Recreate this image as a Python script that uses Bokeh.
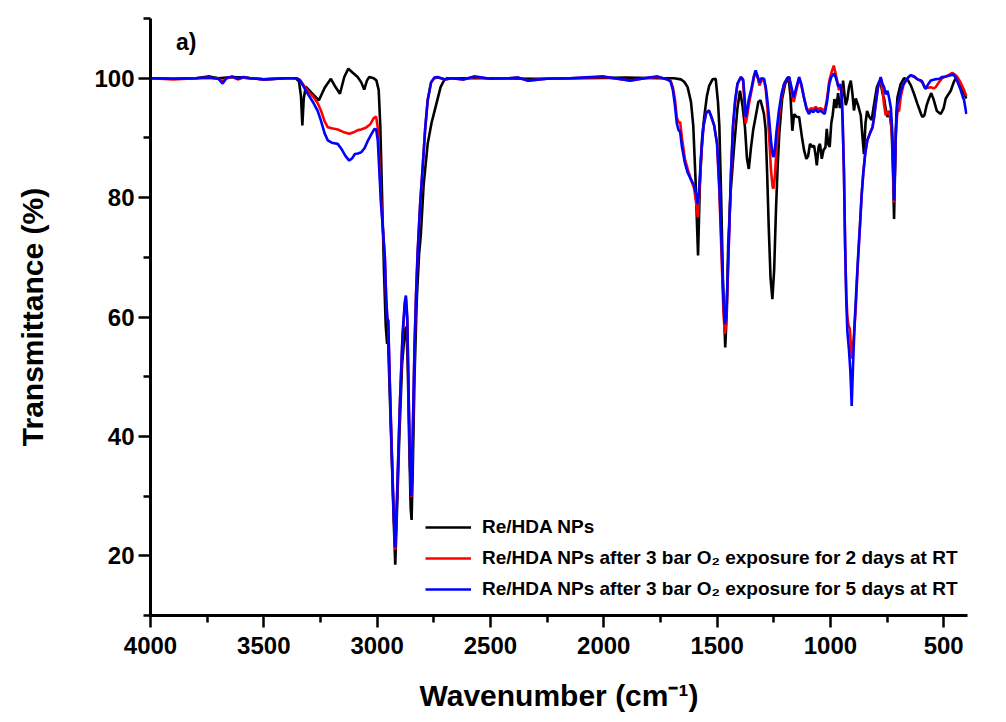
from bokeh.plotting import figure
from bokeh.models import Range1d, FixedTicker, Label
from bokeh.embed import file_html
from bokeh.resources import INLINE

# ---------------- data ----------------
black_wn = [4000, 3900, 3800, 3740, 3700, 3640, 3590, 3500, 3400, 3360, 3345, 3336, 3330, 3324, 3315,
            3290, 3257, 3230, 3204, 3185, 3164, 3145, 3127, 3110, 3086, 3070, 3057, 3045, 3035, 3015,
            3003, 2993, 2986, 2978, 2970, 2962, 2956, 2952, 2945, 2935, 2927, 2920, 2912, 2902, 2890,
            2877, 2871, 2865, 2858, 2852, 2848, 2843, 2835, 2825, 2815, 2807, 2795, 2777, 2760, 2740,
            2720, 2704, 2690, 2500, 2300, 2100, 1900, 1750, 1690, 1660, 1645, 1630, 1615, 1605, 1595,
            1584, 1576, 1566, 1557, 1545, 1535, 1520, 1506, 1496, 1490, 1482, 1474, 1464, 1457, 1451,
            1440, 1425, 1410, 1399, 1388, 1377, 1368, 1360, 1350, 1340, 1330, 1318, 1308, 1293, 1286,
            1279, 1272, 1264, 1256, 1248, 1240, 1233, 1225, 1213, 1200, 1185, 1176, 1168, 1160, 1148,
            1138, 1125, 1116, 1106, 1098, 1090, 1080, 1072, 1065, 1060, 1052, 1046, 1038, 1030, 1022,
            1016, 1010, 1003, 996, 990, 982, 974, 966, 958, 950, 944, 937, 932, 925, 918,
            910, 903, 896, 888, 878, 866, 858, 852, 845, 838, 828, 818, 807, 795, 784,
            778, 770, 763, 755, 748, 740, 730, 724, 719, 714, 709, 704, 690, 675, 660,
            645, 631, 616, 600, 594, 585, 575, 565, 555, 545, 530, 513, 500, 491, 469,
            455, 447, 435, 425, 410, 400]
black_t = [100.0, 99.9, 100.0, 100.3, 100.0, 100.2, 100.1, 99.8, 100.0, 100.0, 99.5, 97.0, 92.1, 96.5, 98.6,
           97.6, 96.3, 98.5, 99.9, 98.6, 97.4, 100.2, 101.6, 101.0, 100.2, 99.3, 98.1, 99.6, 100.2, 100.0,
           99.6, 98.0, 92.0, 80.0, 68.0, 58.5, 55.5, 56.5, 48.0, 36.0, 26.0, 18.5, 28.0, 40.0, 52.0,
           58.0, 58.3, 52.0, 38.0, 28.0, 26.0, 34.0, 50.0, 63.0, 70.5, 73.9, 82.0, 89.0, 92.5, 95.5,
           98.5, 99.7, 100.0, 100.0, 99.9, 100.0, 100.1, 100.0, 100.0, 99.8, 99.4, 98.5, 96.0, 92.0, 83.0,
           70.3, 82.0, 90.0, 93.4, 97.0, 98.7, 99.8, 99.9, 96.0, 92.0, 80.0, 66.0, 54.9, 61.0, 72.0,
           81.0, 88.5, 95.0, 97.9, 95.5, 91.8, 86.5, 84.8, 88.5, 91.5, 93.5, 96.0, 96.3, 94.0, 91.5,
           84.0, 75.0, 66.5, 63.0, 68.0, 78.0, 85.0, 91.0, 96.5, 99.0, 100.2, 97.0, 91.2, 94.0, 93.5,
           93.5, 90.0, 87.9, 86.5, 87.0, 89.0, 88.5, 88.7, 87.0, 85.4, 88.5, 89.0, 86.5, 88.0, 88.4,
           91.5, 89.0, 88.5, 92.5, 93.8, 96.5, 95.0, 97.5, 95.0, 96.5, 99.6, 97.0, 95.5, 96.5, 98.5,
           99.6, 97.5, 94.6, 96.6, 95.5, 93.8, 90.0, 87.3, 92.5, 94.5, 93.5, 93.0, 95.7, 98.5, 99.5,
           99.1, 97.5, 96.6, 94.5, 93.5, 94.5, 91.5, 85.0, 76.4, 86.0, 94.0, 96.8, 99.0, 100.0, 99.8,
           98.8, 97.4, 95.7, 94.0, 93.5, 93.8, 95.5, 96.6, 97.5, 96.5, 94.5, 94.0, 95.0, 96.6, 97.9,
           99.4, 99.9, 99.5, 98.6, 97.5, 96.6]

blue_wn = [4000, 3900, 3800, 3740, 3700, 3682, 3665, 3640, 3615, 3590, 3560, 3500, 3400, 3355, 3340,
           3320, 3300, 3280, 3262, 3248, 3232, 3218, 3200, 3174, 3155, 3140, 3123, 3110, 3098, 3085,
           3070, 3055, 3040, 3027, 3012, 3004, 2997, 2991, 2983, 2975, 2966, 2960, 2955, 2951, 2945,
           2936, 2928, 2920, 2912, 2900, 2888, 2878, 2873, 2867, 2861, 2855, 2849, 2843, 2835, 2828,
           2821, 2810, 2799, 2788, 2777, 2762, 2748, 2733, 2700, 2672, 2620, 2572, 2500, 2420, 2380,
           2336, 2250, 2150, 2000, 1940, 1880, 1820, 1763, 1719, 1705, 1695, 1686, 1678, 1670, 1663,
           1655, 1642, 1630, 1615, 1601, 1592, 1585, 1579, 1570, 1560, 1548, 1536, 1525, 1513, 1500,
           1490, 1480, 1472, 1466, 1460, 1454, 1447, 1439, 1430, 1420, 1410, 1395, 1385, 1378, 1374,
           1368, 1360, 1350, 1338, 1330, 1320, 1313, 1305, 1293, 1285, 1278, 1270, 1262, 1255, 1251,
           1245, 1238, 1227, 1215, 1204, 1190, 1182, 1172, 1162, 1150, 1138, 1128, 1118, 1105, 1095,
           1085, 1075, 1065, 1055, 1045, 1035, 1025, 1015, 1005, 996, 985, 975, 965, 958, 952,
           946, 940, 935, 930, 925, 918, 912, 906, 900, 893, 885, 878, 870, 862, 855,
           846, 837, 825, 814, 807, 800, 790, 778, 770, 763, 756, 748, 740, 733, 727,
           723, 719, 715, 711, 704, 697, 689, 678, 667, 655, 645, 630, 615, 600, 594,
           585, 579, 570, 557, 540, 520, 506, 490, 470, 457, 445, 435, 425, 415, 410,
           400]
blue_t = [100.0, 99.9, 100.0, 100.1, 99.9, 99.1, 100.0, 100.3, 99.9, 100.2, 100.0, 99.8, 100.0, 100.0, 99.6,
          98.3, 97.0, 95.8, 94.5, 92.9, 90.8, 89.6, 89.2, 89.0, 88.0, 87.0, 86.2, 86.6, 87.3, 87.4,
          87.6, 88.3, 89.6, 90.5, 91.5, 91.4, 89.5, 85.0, 79.0, 75.0, 70.0, 63.0, 59.7, 59.3, 50.0,
          38.0, 28.0, 21.4, 30.0, 45.0, 57.0, 62.5, 63.6, 60.0, 47.0, 35.0, 30.0, 40.0, 55.0, 64.0,
          71.0, 79.0, 85.1, 91.5, 96.3, 99.3, 100.1, 100.2, 99.8, 100.0, 99.8, 100.3, 99.9, 100.0, 100.1,
          99.6, 99.9, 100.0, 100.3, 99.9, 99.6, 100.0, 100.3, 99.8, 99.4, 98.0, 95.5, 92.5, 91.3, 91.0,
          88.5, 85.8, 84.2, 83.0, 82.0, 80.5, 78.9, 81.5, 87.5, 92.0, 94.2, 94.6, 93.5, 92.1, 89.0,
          82.0, 72.0, 63.0, 58.8, 60.0, 66.0, 74.0, 84.0, 92.0, 96.5, 99.1, 100.2, 99.8, 96.5, 93.5,
          94.5, 96.5, 98.0, 100.3, 101.3, 100.2, 99.3, 100.0, 99.9, 98.5, 96.3, 93.0, 89.5, 87.2, 86.8,
          88.0, 91.0, 94.6, 97.5, 99.1, 100.0, 100.2, 98.5, 96.8, 98.5, 100.2, 99.0, 97.0, 94.8, 94.0,
          94.6, 94.3, 94.8, 94.3, 94.6, 94.3, 94.0, 96.0, 99.0, 100.2, 100.8, 100.0, 98.6, 99.0, 98.0,
          93.0, 84.0, 72.0, 63.0, 57.5, 54.5, 51.0, 45.1, 52.0, 59.0, 65.0, 70.0, 75.0, 80.5, 84.0,
          87.5, 89.6, 90.8, 91.8, 93.5, 95.7, 98.5, 100.2, 99.0, 98.5, 97.3, 97.9, 96.5, 95.0, 91.0,
          85.0, 79.5, 85.0, 91.5, 95.7, 96.5, 97.9, 99.0, 99.6, 100.2, 100.5, 100.3, 99.8, 99.6, 99.4,
          98.5, 98.2, 98.9, 99.6, 99.8, 99.9, 100.2, 100.3, 100.5, 100.6, 100.0, 99.0, 98.0, 96.8, 96.3,
          94.0]

red_wn = [4000, 3900, 3800, 3740, 3700, 3682, 3665, 3640, 3615, 3590, 3560, 3500, 3400, 3355, 3340,
          3320, 3300, 3280, 3262, 3248, 3232, 3218, 3200, 3174, 3150, 3123, 3100, 3085, 3071, 3050,
          3030, 3015, 3005, 2998, 2991, 2983, 2975, 2966, 2960, 2955, 2951, 2945, 2936, 2928, 2920,
          2912, 2900, 2888, 2878, 2873, 2867, 2861, 2855, 2849, 2843, 2835, 2828, 2821, 2810, 2799,
          2788, 2777, 2762, 2748, 2733, 2700, 2672, 2620, 2572, 2500, 2420, 2380, 2336, 2250, 2150,
          2000, 1940, 1880, 1820, 1763, 1719, 1705, 1695, 1686, 1678, 1670, 1663, 1655, 1642, 1630,
          1615, 1601, 1592, 1585, 1579, 1570, 1560, 1548, 1536, 1525, 1513, 1500, 1490, 1480, 1472,
          1466, 1460, 1454, 1447, 1439, 1430, 1420, 1410, 1395, 1385, 1378, 1374, 1368, 1360, 1350,
          1338, 1330, 1320, 1313, 1305, 1293, 1285, 1278, 1270, 1262, 1255, 1251, 1245, 1238, 1227,
          1215, 1204, 1190, 1182, 1172, 1162, 1150, 1138, 1128, 1118, 1105, 1095, 1085, 1075, 1065,
          1055, 1045, 1035, 1025, 1015, 1005, 995, 985, 978, 970, 962, 955, 950, 946, 940,
          935, 930, 925, 920, 914, 910, 906, 901, 896, 888, 880, 870, 862, 855, 846,
          837, 825, 814, 807, 800, 790, 778, 770, 763, 756, 748, 740, 733, 727, 723,
          719, 715, 711, 704, 697, 689, 678, 667, 655, 645, 630, 615, 600, 594, 585,
          570, 557, 545, 535, 520, 506, 490, 475, 462, 450, 440, 430, 420, 410, 400]
red_t = [100.0, 99.8, 100.0, 100.1, 99.9, 99.5, 100.0, 100.2, 99.8, 100.1, 100.0, 99.8, 100.0, 100.0, 99.7,
         98.6, 97.6, 96.8, 95.8, 94.6, 92.8, 91.8, 91.6, 91.4, 91.0, 90.7, 91.0, 91.3, 91.4, 91.7,
         92.3, 93.3, 93.6, 92.0, 87.0, 80.0, 75.0, 70.0, 63.0, 59.7, 59.5, 50.5, 38.5, 28.5, 21.0,
         30.0, 45.0, 56.5, 62.0, 63.0, 59.5, 47.0, 35.5, 29.8, 40.0, 55.0, 64.0, 71.0, 79.0, 85.1,
         91.5, 96.3, 99.3, 100.0, 100.1, 99.8, 100.0, 99.8, 100.2, 99.9, 100.0, 100.1, 99.6, 99.9, 100.0,
         100.2, 99.9, 99.6, 100.0, 100.2, 99.8, 99.6, 98.5, 96.5, 93.5, 92.5, 92.7, 90.0, 86.5, 84.8,
         83.0, 81.5, 79.0, 76.7, 80.5, 87.0, 92.0, 94.2, 94.6, 93.5, 92.1, 89.0, 81.0, 70.0, 61.0,
         57.2, 59.0, 65.0, 73.5, 83.5, 91.5, 96.0, 99.0, 100.2, 99.5, 95.0, 92.4, 93.5, 95.5, 97.5,
         100.0, 101.0, 100.0, 98.8, 99.5, 99.8, 98.0, 95.0, 90.0, 84.5, 81.8, 81.5, 83.5, 88.0, 93.5,
         97.0, 99.0, 100.0, 100.2, 98.0, 96.0, 98.0, 100.0, 98.8, 97.0, 95.0, 94.5, 95.0, 94.8, 95.2,
         94.8, 95.0, 94.8, 94.5, 96.5, 99.5, 101.0, 102.1, 101.0, 99.5, 98.0, 99.0, 98.0, 93.0, 84.0,
         72.0, 64.0, 60.0, 58.6, 58.0, 55.5, 53.0, 55.0, 57.0, 61.5, 68.0, 75.0, 80.5, 84.0, 87.5,
         89.6, 90.8, 91.8, 93.5, 95.7, 98.5, 100.0, 98.0, 95.5, 93.8, 94.5, 94.0, 93.0, 90.0, 84.0,
         79.2, 85.0, 91.0, 94.5, 94.5, 97.0, 98.8, 99.6, 100.2, 100.5, 100.2, 99.8, 99.5, 99.2, 98.6,
         98.4, 98.5, 98.3, 98.5, 99.4, 100.0, 100.3, 100.6, 100.9, 100.6, 100.2, 99.6, 98.8, 98.0, 97.0]

series_labels = ["Re/HDA NPs",
                 "Re/HDA NPs after 3 bar O\u2082 exposure for 2 days at RT",
                 "Re/HDA NPs after 3 bar O\u2082 exposure for 5 days at RT"]
x_ticks = [4000, 3500, 3000, 2500, 2000, 1500, 1000, 500]
x_minor = [3750, 3250, 2750, 2250, 1750, 1250, 750]
y_ticks = [20, 40, 60, 80, 100]
y_minor = [10, 30, 50, 70, 90, 110]

FONT = "Liberation Sans"

p = figure(width=1006, height=722, output_backend="svg", toolbar_location=None,
           x_range=Range1d(4000, 395), y_range=Range1d(10, 110),
           min_border_left=150, min_border_right=39, min_border_top=18, min_border_bottom=107)
p.outline_line_color = None
p.grid.visible = False
p.background_fill_color = "white"
p.border_fill_color = "white"

p.line(black_wn, black_t, line_color="black", line_width=2.6, legend_label=series_labels[0])
p.line(red_wn, red_t, line_color="#ff0000", line_width=2.6, legend_label=series_labels[1])
p.line(blue_wn, blue_t, line_color="#0000ff", line_width=2.6, legend_label=series_labels[2])

for ax in (p.xaxis[0], p.yaxis[0]):
    ax.axis_line_width = 3
    ax.major_tick_line_width = 2.5
    ax.minor_tick_line_width = 2.5
    ax.major_tick_out = 12
    ax.major_tick_in = 0
    ax.minor_tick_out = 7
    ax.minor_tick_in = 0
    ax.major_label_text_font = FONT
    ax.major_label_text_font_style = "bold"
    ax.major_label_text_font_size = "24px"
    ax.major_label_text_color = "black"
    ax.axis_label_text_font = FONT
    ax.axis_label_text_font_style = "bold"
    ax.axis_label_text_font_size = "30px"
    ax.axis_label_text_color = "black"

p.xaxis.ticker = FixedTicker(ticks=x_ticks, minor_ticks=x_minor)
p.yaxis.ticker = FixedTicker(ticks=y_ticks, minor_ticks=y_minor)
p.xaxis.axis_label = "Wavenumber (cm\u207b\u00b9)"
p.yaxis.axis_label = "Transmittance (%)"
p.xaxis.major_label_standoff = 9
p.yaxis.major_label_standoff = 4
p.xaxis.axis_label_standoff = 22
p.yaxis.axis_label_standoff = 42

lg = p.legend[0]
lg.location = (275, 14)
lg.border_line_color = None
lg.background_fill_alpha = 0
lg.padding = 0
lg.margin = 0
lg.spacing = 7
lg.glyph_width = 46
lg.glyph_height = 24
lg.label_height = 24
lg.label_standoff = 11
lg.label_text_font = FONT
lg.label_text_font_style = "bold"
lg.label_text_font_size = "19px"
lg.label_text_color = "black"

p.add_layout(Label(x=3888, y=106, text="a)", text_font=FONT, text_font_style="bold",
                   text_font_size="23px", text_baseline="middle", text_color="black"))

open("out.html", "w").write(file_html(p, INLINE))
